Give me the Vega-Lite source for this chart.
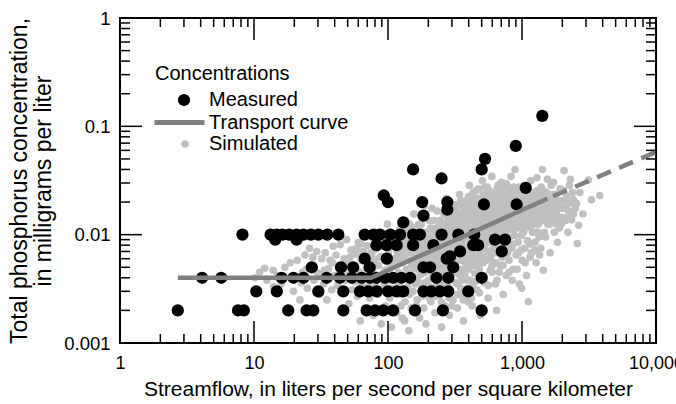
{
  "$schema": "https://vega.github.io/schema/vega-lite/v6.json",
  "width": 536,
  "height": 325,
  "autosize": {"type": "none"},
  "padding": {"left": 120, "top": 18, "right": 20, "bottom": 61},
  "background": "white",
  "config": {
    "view": {"stroke": "black", "strokeWidth": 2},
    "font": "Liberation Sans",
    "axis": {"labelFont": "Liberation Sans", "titleFont": "Liberation Sans", "labelColor": "black", "titleColor": "black", "domain": false, "grid": false, "ticks": false, "titleFontWeight": "normal", "labelOverlap": false, "labelFlush": false},
    "legend": {"labelFont": "Liberation Sans", "titleFont": "Liberation Sans", "labelColor": "black", "labelFontSize": 20, "titleColor": "black"}
  },
  "datasets": {
    "xticks": [
      {"v":1,"major":true},{"v":2,"major":false},{"v":3,"major":false},{"v":4,"major":false},{"v":5,"major":false},{"v":6,"major":false},{"v":7,"major":false},{"v":8,"major":false},{"v":9,"major":false},
      {"v":10,"major":true},{"v":20,"major":false},{"v":30,"major":false},{"v":40,"major":false},{"v":50,"major":false},{"v":60,"major":false},{"v":70,"major":false},{"v":80,"major":false},{"v":90,"major":false},
      {"v":100,"major":true},{"v":200,"major":false},{"v":300,"major":false},{"v":400,"major":false},{"v":500,"major":false},{"v":600,"major":false},{"v":700,"major":false},{"v":800,"major":false},{"v":900,"major":false},
      {"v":1000,"major":true},{"v":2000,"major":false},{"v":3000,"major":false},{"v":4000,"major":false},{"v":5000,"major":false},{"v":6000,"major":false},{"v":7000,"major":false},{"v":8000,"major":false},{"v":9000,"major":false},
      {"v":10000,"major":true}
    ],
    "yticks": [
      {"v":0.001,"major":true},{"v":0.002,"major":false},{"v":0.003,"major":false},{"v":0.004,"major":false},{"v":0.005,"major":false},{"v":0.006,"major":false},{"v":0.007,"major":false},{"v":0.008,"major":false},{"v":0.009,"major":false},
      {"v":0.01,"major":true},{"v":0.02,"major":false},{"v":0.03,"major":false},{"v":0.04,"major":false},{"v":0.05,"major":false},{"v":0.06,"major":false},{"v":0.07,"major":false},{"v":0.08,"major":false},{"v":0.09,"major":false},
      {"v":0.1,"major":true},{"v":0.2,"major":false},{"v":0.3,"major":false},{"v":0.4,"major":false},{"v":0.5,"major":false},{"v":0.6,"major":false},{"v":0.7,"major":false},{"v":0.8,"major":false},{"v":0.9,"major":false},
      {"v":1,"major":true}
    ]
  },
  "layer": [
    {
      "data": {"values": [
        {"flow":10.2,"tp":0.004},{"flow":11,"tp":0.0045},{"flow":12.5,"tp":0.0038},{"flow":13.9,"tp":0.0047},{"flow":15,"tp":0.0042},{"flow":16,"tp":0.0035},{"flow":17,"tp":0.005},{"flow":18.6,"tp":0.0055},{"flow":19.7,"tp":0.003},{"flow":14,"tp":0.0033},{"flow":20,"tp":0.0041},{"flow":12,"tp":0.0049},
        {"flow":21,"tp":0.0058},{"flow":22,"tp":0.0025},{"flow":23,"tp":0.0045},{"flow":24,"tp":0.0065},{"flow":25,"tp":0.0032},{"flow":26,"tp":0.0075},{"flow":27,"tp":0.0052},{"flow":28,"tp":0.0038},{"flow":29.4,"tp":0.007},{"flow":30,"tp":0.0044},{"flow":31,"tp":0.0028},{"flow":32,"tp":0.006},{"flow":33,"tp":0.0035},{"flow":34,"tp":0.0068},{"flow":35,"tp":0.0025},{"flow":36,"tp":0.0049},{"flow":37,"tp":0.0058},{"flow":38,"tp":0.0031},{"flow":39,"tp":0.0078},{"flow":40,"tp":0.0042},{"flow":22.5,"tp":0.0036},{"flow":27.5,"tp":0.0062},{"flow":33.5,"tp":0.0047},{"flow":38.5,"tp":0.0055},{"flow":24.5,"tp":0.0048},
        {"flow":41,"tp":0.0065},{"flow":42,"tp":0.0034},{"flow":43,"tp":0.0052},{"flow":44,"tp":0.0081},{"flow":45,"tp":0.0029},{"flow":46,"tp":0.0046},{"flow":47,"tp":0.006},{"flow":48,"tp":0.0038},{"flow":49,"tp":0.009},{"flow":50,"tp":0.0055},{"flow":51,"tp":0.0023},{"flow":52,"tp":0.0043},{"flow":53,"tp":0.0072},{"flow":54,"tp":0.0031},{"flow":55,"tp":0.0072},{"flow":56,"tp":0.005},{"flow":57,"tp":0.0037},{"flow":58,"tp":0.0066},{"flow":59,"tp":0.0027},{"flow":60,"tp":0.0085},{"flow":61,"tp":0.0045},{"flow":62,"tp":0.0016},{"flow":63,"tp":0.0058},{"flow":64,"tp":0.0034},{"flow":65,"tp":0.007},{"flow":66,"tp":0.0042},{"flow":67,"tp":0.0021},{"flow":68,"tp":0.0062},{"flow":69,"tp":0.0048},{"flow":70,"tp":0.0079},{"flow":71,"tp":0.0033},{"flow":72,"tp":0.0054},{"flow":73,"tp":0.0026},{"flow":74,"tp":0.0068},{"flow":75,"tp":0.0039},{"flow":76,"tp":0.0095},{"flow":77,"tp":0.0046},{"flow":78,"tp":0.0018},{"flow":79,"tp":0.0059},{"flow":80,"tp":0.0035},
        {"flow":52,"tp":0.0062},{"flow":58,"tp":0.0075},{"flow":63,"tp":0.0082},{"flow":70,"tp":0.0058},{"flow":76,"tp":0.0068},{"flow":83,"tp":0.0088},{"flow":87,"tp":0.0062},{"flow":91,"tp":0.0078},{"flow":98,"tp":0.0092},{"flow":102,"tp":0.0055},{"flow":105,"tp":0.0105},{"flow":112,"tp":0.0078},{"flow":115,"tp":0.0088},{"flow":121,"tp":0.0058},{"flow":124,"tp":0.0095},{"flow":130,"tp":0.0072},{"flow":136,"tp":0.0108},{"flow":142,"tp":0.0082},{"flow":145,"tp":0.0125},
        {"flow":82,"tp":0.0074},{"flow":84,"tp":0.0028},{"flow":85,"tp":0.0052},{"flow":86,"tp":0.0105},{"flow":88,"tp":0.0041},{"flow":89,"tp":0.0015},{"flow":90,"tp":0.0063},{"flow":92,"tp":0.0033},{"flow":93,"tp":0.0088},{"flow":95,"tp":0.0047},{"flow":96,"tp":0.0022},{"flow":97,"tp":0.0057},{"flow":99,"tp":0.0125},{"flow":100,"tp":0.0038},{"flow":101,"tp":0.0069},{"flow":103,"tp":0.0026},{"flow":104,"tp":0.0049},{"flow":106,"tp":0.0014},{"flow":107,"tp":0.0082},{"flow":108,"tp":0.0042},{"flow":110,"tp":0.006},{"flow":111,"tp":0.0031},{"flow":113,"tp":0.0097},{"flow":114,"tp":0.0053},{"flow":116,"tp":0.0019},{"flow":117,"tp":0.0072},{"flow":119,"tp":0.0036},{"flow":120,"tp":0.0045},{"flow":122,"tp":0.0112},{"flow":123,"tp":0.0066},{"flow":125,"tp":0.0028},{"flow":126,"tp":0.0056},{"flow":128,"tp":0.0017},{"flow":129,"tp":0.0085},{"flow":131,"tp":0.004},{"flow":132,"tp":0.0063},{"flow":134,"tp":0.0024},{"flow":135,"tp":0.0135},{"flow":137,"tp":0.0048},{"flow":138,"tp":0.0076},{"flow":140,"tp":0.0033},{"flow":141,"tp":0.0058},{"flow":143,"tp":0.0013},{"flow":144,"tp":0.0092},{"flow":146,"tp":0.0044},{"flow":147,"tp":0.0068},{"flow":149,"tp":0.0021},{"flow":150,"tp":0.0052},{"flow":94,"tp":0.0036},{"flow":109,"tp":0.0029},{"flow":118,"tp":0.0065},{"flow":127,"tp":0.0104},{"flow":133,"tp":0.0016},{"flow":139,"tp":0.0087},{"flow":148,"tp":0.0118},
        {"flow":105,"tp":0.0032},{"flow":125,"tp":0.0022},{"flow":145,"tp":0.0028},{"flow":165,"tp":0.0025},{"flow":185,"tp":0.0021},{"flow":205,"tp":0.0033},{"flow":225,"tp":0.0027},{"flow":250,"tp":0.0024},{"flow":270,"tp":0.0031},{"flow":300,"tp":0.0022},{"flow":330,"tp":0.0035},{"flow":360,"tp":0.0028},{"flow":390,"tp":0.0032},{"flow":420,"tp":0.0026},{"flow":450,"tp":0.0037},{"flow":480,"tp":0.0029},{"flow":520,"tp":0.0042},{"flow":560,"tp":0.0034},{"flow":600,"tp":0.0045},{"flow":650,"tp":0.0038},{"flow":720,"tp":0.0052},{"flow":800,"tp":0.0045},
        {"flow":160,"tp":0.0035},{"flow":200,"tp":0.0038},{"flow":240,"tp":0.0032},{"flow":280,"tp":0.0042},{"flow":320,"tp":0.0045},{"flow":360,"tp":0.0038},{"flow":400,"tp":0.0048},{"flow":440,"tp":0.0052},{"flow":480,"tp":0.0055},{"flow":540,"tp":0.0058},{"flow":580,"tp":0.0062},{"flow":640,"tp":0.0055},{"flow":700,"tp":0.0075},{"flow":780,"tp":0.0068},{"flow":860,"tp":0.0082},{"flow":940,"tp":0.0068},{"flow":1050,"tp":0.0075},{"flow":1150,"tp":0.0062},{"flow":1250,"tp":0.0072},
        {"flow":152,"tp":0.0071},{"flow":154,"tp":0.003},{"flow":156,"tp":0.0155},{"flow":158,"tp":0.0049},{"flow":160,"tp":0.0095},{"flow":162,"tp":0.0022},{"flow":164,"tp":0.006},{"flow":166,"tp":0.0038},{"flow":168,"tp":0.0124},{"flow":170,"tp":0.0055},{"flow":172,"tp":0.0017},{"flow":174,"tp":0.0082},{"flow":176,"tp":0.0043},{"flow":178,"tp":0.0066},{"flow":180,"tp":0.0027},{"flow":182,"tp":0.0105},{"flow":184,"tp":0.0051},{"flow":186,"tp":0.0185},{"flow":188,"tp":0.0036},{"flow":190,"tp":0.0074},{"flow":192,"tp":0.0015},{"flow":194,"tp":0.0058},{"flow":196,"tp":0.0092},{"flow":198,"tp":0.0031},{"flow":200,"tp":0.0047},{"flow":203,"tp":0.0135},{"flow":206,"tp":0.0068},{"flow":209,"tp":0.0024},{"flow":212,"tp":0.0085},{"flow":215,"tp":0.0041},{"flow":218,"tp":0.0112},{"flow":221,"tp":0.0056},{"flow":224,"tp":0.0019},{"flow":227,"tp":0.0078},{"flow":230,"tp":0.0034},{"flow":233,"tp":0.0165},{"flow":236,"tp":0.0062},{"flow":239,"tp":0.0045},{"flow":242,"tp":0.0098},{"flow":245,"tp":0.0028},{"flow":248,"tp":0.0072},{"flow":251,"tp":0.0014},{"flow":254,"tp":0.0052},{"flow":257,"tp":0.0125},{"flow":260,"tp":0.0038},{"flow":263,"tp":0.0088},{"flow":266,"tp":0.0022},{"flow":269,"tp":0.0065},{"flow":272,"tp":0.0215},{"flow":275,"tp":0.0048},{"flow":278,"tp":0.0105},{"flow":281,"tp":0.0033},{"flow":284,"tp":0.0076},{"flow":287,"tp":0.0018},{"flow":290,"tp":0.0145},{"flow":293,"tp":0.0057},{"flow":296,"tp":0.0042},{"flow":299,"tp":0.0093},{"flow":155,"tp":0.0041},{"flow":163,"tp":0.0078},{"flow":171,"tp":0.0108},{"flow":179,"tp":0.0033},{"flow":187,"tp":0.0062},{"flow":195,"tp":0.0048},{"flow":204,"tp":0.0026},{"flow":213,"tp":0.0175},{"flow":222,"tp":0.0071},{"flow":231,"tp":0.0115},{"flow":240,"tp":0.0055},{"flow":249,"tp":0.0082},{"flow":258,"tp":0.0035},{"flow":267,"tp":0.0155},{"flow":276,"tp":0.0068},{"flow":285,"tp":0.0026},{"flow":294,"tp":0.012},{"flow":201,"tp":0.0105},{"flow":228,"tp":0.0052},{"flow":264,"tp":0.0045},{"flow":288,"tp":0.0062},{"flow":197,"tp":0.0066},
        {"flow":152,"tp":0.0095},{"flow":157,"tp":0.0062},{"flow":161,"tp":0.0115},{"flow":165,"tp":0.0048},{"flow":169,"tp":0.0085},{"flow":173,"tp":0.0068},{"flow":177,"tp":0.0125},{"flow":181,"tp":0.0058},{"flow":185,"tp":0.009},{"flow":189,"tp":0.0045},{"flow":193,"tp":0.0105},{"flow":199,"tp":0.0078},{"flow":205,"tp":0.0058},{"flow":210,"tp":0.0098},{"flow":216,"tp":0.0065},{"flow":220,"tp":0.0135},{"flow":225,"tp":0.0088},{"flow":232,"tp":0.0048},{"flow":237,"tp":0.0105},{"flow":243,"tp":0.0072},{"flow":247,"tp":0.0125},{"flow":253,"tp":0.0062},{"flow":259,"tp":0.0098},{"flow":262,"tp":0.0155},{"flow":268,"tp":0.0082},{"flow":273,"tp":0.0055},{"flow":279,"tp":0.0128},{"flow":283,"tp":0.0092},{"flow":289,"tp":0.0048},{"flow":292,"tp":0.0175},{"flow":297,"tp":0.0075},{"flow":301,"tp":0.0108},{"flow":307,"tp":0.0142},{"flow":313,"tp":0.0068},{"flow":317,"tp":0.0098},{"flow":322,"tp":0.0165},{"flow":326,"tp":0.0082},{"flow":331,"tp":0.0125},{"flow":337,"tp":0.0058},{"flow":341,"tp":0.0145},{"flow":345,"tp":0.0095},{"flow":351,"tp":0.0068},{"flow":356,"tp":0.0185},{"flow":361,"tp":0.0048},{"flow":365,"tp":0.0132},{"flow":371,"tp":0.0105},{"flow":375,"tp":0.0078},{"flow":380,"tp":0.0155},{"flow":387,"tp":0.0115},{"flow":391,"tp":0.0062},{"flow":398,"tp":0.0135},
        {"flow":155,"tp":0.0085},{"flow":162,"tp":0.0055},{"flow":167,"tp":0.0072},{"flow":175,"tp":0.0095},{"flow":183,"tp":0.0078},{"flow":191,"tp":0.0062},{"flow":202,"tp":0.0088},{"flow":208,"tp":0.0115},{"flow":214,"tp":0.0052},{"flow":219,"tp":0.0075},{"flow":226,"tp":0.0105},{"flow":234,"tp":0.0068},{"flow":238,"tp":0.0085},{"flow":244,"tp":0.0135},{"flow":252,"tp":0.0105},{"flow":256,"tp":0.0072},{"flow":261,"tp":0.0058},{"flow":265,"tp":0.0118},{"flow":271,"tp":0.0092},{"flow":277,"tp":0.0145},{"flow":282,"tp":0.0065},{"flow":286,"tp":0.0108},{"flow":291,"tp":0.0085},{"flow":295,"tp":0.0135},{"flow":302,"tp":0.0052},{"flow":308,"tp":0.0075},{"flow":314,"tp":0.0115},{"flow":320,"tp":0.0065},{"flow":325,"tp":0.0185},{"flow":333,"tp":0.0088},{"flow":339,"tp":0.0115},{"flow":343,"tp":0.0065},{"flow":349,"tp":0.0135},{"flow":355,"tp":0.0078},{"flow":359,"tp":0.0105},{"flow":363,"tp":0.0155},{"flow":369,"tp":0.0062},{"flow":373,"tp":0.0118},{"flow":379,"tp":0.0088},{"flow":385,"tp":0.0175},{"flow":389,"tp":0.0072},{"flow":394,"tp":0.0105},{"flow":399,"tp":0.0225},
        {"flow":303,"tp":0.0066},{"flow":306,"tp":0.0025},{"flow":309,"tp":0.0118},{"flow":312,"tp":0.0048},{"flow":315,"tp":0.019},{"flow":318,"tp":0.0085},{"flow":321,"tp":0.0036},{"flow":324,"tp":0.0135},{"flow":327,"tp":0.006},{"flow":330,"tp":0.0021},{"flow":334,"tp":0.0102},{"flow":338,"tp":0.0045},{"flow":342,"tp":0.0235},{"flow":346,"tp":0.0075},{"flow":350,"tp":0.0032},{"flow":354,"tp":0.0155},{"flow":358,"tp":0.0058},{"flow":362,"tp":0.0115},{"flow":366,"tp":0.0016},{"flow":370,"tp":0.0088},{"flow":374,"tp":0.0042},{"flow":378,"tp":0.0205},{"flow":382,"tp":0.0068},{"flow":386,"tp":0.0027},{"flow":390,"tp":0.0128},{"flow":395,"tp":0.0052},{"flow":400,"tp":0.0095},{"flow":405,"tp":0.0285},{"flow":410,"tp":0.0038},{"flow":415,"tp":0.0145},{"flow":420,"tp":0.0072},{"flow":425,"tp":0.0022},{"flow":430,"tp":0.0112},{"flow":435,"tp":0.0058},{"flow":440,"tp":0.0175},{"flow":445,"tp":0.0044},{"flow":450,"tp":0.0082},{"flow":455,"tp":0.0255},{"flow":460,"tp":0.0031},{"flow":465,"tp":0.0125},{"flow":470,"tp":0.0065},{"flow":475,"tp":0.0195},{"flow":480,"tp":0.0048},{"flow":485,"tp":0.0098},{"flow":490,"tp":0.0018},{"flow":495,"tp":0.0138},{"flow":500,"tp":0.0074},{"flow":506,"tp":0.0315},{"flow":512,"tp":0.0055},{"flow":518,"tp":0.0108},{"flow":524,"tp":0.0036},{"flow":530,"tp":0.0165},{"flow":536,"tp":0.0088},{"flow":542,"tp":0.0225},{"flow":548,"tp":0.0062},{"flow":554,"tp":0.0125},{"flow":560,"tp":0.0026},{"flow":566,"tp":0.0092},{"flow":572,"tp":0.0185},{"flow":578,"tp":0.0047},{"flow":584,"tp":0.0138},{"flow":590,"tp":0.0072},{"flow":596,"tp":0.0345},{"flow":304,"tp":0.0088},{"flow":311,"tp":0.0155},{"flow":319,"tp":0.0052},{"flow":328,"tp":0.0105},{"flow":336,"tp":0.0072},{"flow":344,"tp":0.0042},{"flow":352,"tp":0.0125},{"flow":360,"tp":0.0085},{"flow":368,"tp":0.0175},{"flow":376,"tp":0.0055},{"flow":384,"tp":0.0095},{"flow":392,"tp":0.0038},{"flow":402,"tp":0.0165},{"flow":412,"tp":0.0062},{"flow":422,"tp":0.0118},{"flow":432,"tp":0.0245},{"flow":442,"tp":0.0078},{"flow":452,"tp":0.0135},{"flow":462,"tp":0.0052},{"flow":472,"tp":0.0092},{"flow":482,"tp":0.0215},{"flow":492,"tp":0.0118},{"flow":502,"tp":0.0042},{"flow":514,"tp":0.0155},{"flow":526,"tp":0.0082},{"flow":538,"tp":0.0125},{"flow":550,"tp":0.0275},{"flow":562,"tp":0.0068},{"flow":574,"tp":0.0105},{"flow":586,"tp":0.0235},{"flow":598,"tp":0.0052},{"flow":332,"tp":0.0028},{"flow":364,"tp":0.0025},{"flow":396,"tp":0.0024},{"flow":428,"tp":0.0033},{"flow":458,"tp":0.0085},{"flow":488,"tp":0.0065},{"flow":520,"tp":0.0198},{"flow":552,"tp":0.0095},{"flow":580,"tp":0.0145},{"flow":348,"tp":0.0205},{"flow":418,"tp":0.0185},{"flow":468,"tp":0.0165},
        {"flow":403,"tp":0.0078},{"flow":408,"tp":0.0205},{"flow":413,"tp":0.0105},{"flow":417,"tp":0.0058},{"flow":423,"tp":0.0155},{"flow":427,"tp":0.0088},{"flow":433,"tp":0.0135},{"flow":437,"tp":0.0068},{"flow":443,"tp":0.0115},{"flow":448,"tp":0.0215},{"flow":453,"tp":0.0098},{"flow":457,"tp":0.0148},{"flow":463,"tp":0.0075},{"flow":467,"tp":0.0118},{"flow":473,"tp":0.0265},{"flow":477,"tp":0.0085},{"flow":483,"tp":0.0158},{"flow":487,"tp":0.0125},{"flow":493,"tp":0.0062},{"flow":497,"tp":0.0185},{"flow":503,"tp":0.0098},{"flow":509,"tp":0.0135},{"flow":515,"tp":0.0235},{"flow":521,"tp":0.0075},{"flow":527,"tp":0.0115},{"flow":533,"tp":0.0195},{"flow":539,"tp":0.0095},{"flow":545,"tp":0.0148},{"flow":551,"tp":0.0065},{"flow":557,"tp":0.0175},{"flow":563,"tp":0.0118},{"flow":569,"tp":0.0255},{"flow":575,"tp":0.0085},{"flow":581,"tp":0.0135},{"flow":587,"tp":0.0165},{"flow":593,"tp":0.0105},
        {"flow":406,"tp":0.0118},{"flow":411,"tp":0.0088},{"flow":416,"tp":0.0165},{"flow":421,"tp":0.0095},{"flow":426,"tp":0.0138},{"flow":431,"tp":0.0078},{"flow":436,"tp":0.0195},{"flow":441,"tp":0.0105},{"flow":446,"tp":0.0128},{"flow":451,"tp":0.0068},{"flow":456,"tp":0.0115},{"flow":461,"tp":0.0175},{"flow":466,"tp":0.0095},{"flow":471,"tp":0.0145},{"flow":476,"tp":0.0118},{"flow":481,"tp":0.0078},{"flow":486,"tp":0.0195},{"flow":491,"tp":0.0138},{"flow":496,"tp":0.0105},{"flow":505,"tp":0.0165},{"flow":511,"tp":0.0085},{"flow":517,"tp":0.0145},{"flow":523,"tp":0.0118},{"flow":529,"tp":0.0275},{"flow":535,"tp":0.0105},{"flow":541,"tp":0.0165},{"flow":547,"tp":0.0125},{"flow":553,"tp":0.0085},{"flow":559,"tp":0.0215},{"flow":565,"tp":0.0145},{"flow":571,"tp":0.0105},{"flow":577,"tp":0.0175},{"flow":583,"tp":0.0095},{"flow":589,"tp":0.0125},{"flow":595,"tp":0.0195},
        {"flow":605,"tp":0.0115},{"flow":612,"tp":0.0055},{"flow":619,"tp":0.0205},{"flow":626,"tp":0.0088},{"flow":633,"tp":0.0035},{"flow":640,"tp":0.0145},{"flow":646,"tp":0.002},{"flow":652,"tp":0.0265},{"flow":660,"tp":0.0072},{"flow":668,"tp":0.0125},{"flow":676,"tp":0.0045},{"flow":684,"tp":0.0185},{"flow":692,"tp":0.0098},{"flow":700,"tp":0.0305},{"flow":708,"tp":0.0062},{"flow":716,"tp":0.0155},{"flow":724,"tp":0.0028},{"flow":732,"tp":0.0112},{"flow":740,"tp":0.0225},{"flow":748,"tp":0.0078},{"flow":756,"tp":0.0135},{"flow":764,"tp":0.0042},{"flow":772,"tp":0.0195},{"flow":780,"tp":0.0092},{"flow":790,"tp":0.0255},{"flow":800,"tp":0.0058},{"flow":810,"tp":0.0165},{"flow":820,"tp":0.0118},{"flow":830,"tp":0.0345},{"flow":840,"tp":0.0075},{"flow":850,"tp":0.0205},{"flow":860,"tp":0.0048},{"flow":870,"tp":0.0138},{"flow":880,"tp":0.0098},{"flow":887,"tp":0.04},{"flow":895,"tp":0.0175},{"flow":905,"tp":0.0065},{"flow":915,"tp":0.0245},{"flow":925,"tp":0.0115},{"flow":935,"tp":0.0085},{"flow":945,"tp":0.0155},{"flow":955,"tp":0.0035},{"flow":965,"tp":0.0215},{"flow":975,"tp":0.0125},{"flow":985,"tp":0.0072},{"flow":995,"tp":0.0032},{"flow":1010,"tp":0.0185},{"flow":1025,"tp":0.0105},{"flow":1040,"tp":0.0285},{"flow":1055,"tp":0.0055},{"flow":1070,"tp":0.0145},{"flow":1085,"tp":0.0225},{"flow":1100,"tp":0.0088},{"flow":1115,"tp":0.0024},{"flow":1130,"tp":0.0165},{"flow":1145,"tp":0.0118},{"flow":1160,"tp":0.0315},{"flow":1175,"tp":0.0068},{"flow":1190,"tp":0.0195},{"flow":622,"tp":0.0165},{"flow":658,"tp":0.0235},{"flow":694,"tp":0.0125},{"flow":728,"tp":0.0175},{"flow":766,"tp":0.0295},{"flow":802,"tp":0.0145},{"flow":838,"tp":0.0112},{"flow":874,"tp":0.0255},{"flow":910,"tp":0.0148},{"flow":950,"tp":0.0275},{"flow":990,"tp":0.0098},{"flow":1030,"tp":0.0135},{"flow":1065,"tp":0.0205},{"flow":1110,"tp":0.0265},{"flow":1150,"tp":0.0082},{"flow":1185,"tp":0.0145},{"flow":615,"tp":0.0075},{"flow":688,"tp":0.0052},{"flow":760,"tp":0.0065},{"flow":845,"tp":0.0038},{"flow":920,"tp":0.0048},{"flow":1000,"tp":0.0058},{"flow":1080,"tp":0.0042},
        {"flow":602,"tp":0.0225},{"flow":609,"tp":0.0135},{"flow":616,"tp":0.0095},{"flow":624,"tp":0.0185},{"flow":631,"tp":0.0125},{"flow":638,"tp":0.0068},{"flow":644,"tp":0.0205},{"flow":650,"tp":0.0155},{"flow":656,"tp":0.0108},{"flow":663,"tp":0.0285},{"flow":671,"tp":0.0145},{"flow":679,"tp":0.0088},{"flow":686,"tp":0.0215},{"flow":697,"tp":0.0165},{"flow":704,"tp":0.0118},{"flow":712,"tp":0.0245},{"flow":720,"tp":0.0095},{"flow":735,"tp":0.0145},{"flow":744,"tp":0.0185},{"flow":752,"tp":0.0105},{"flow":768,"tp":0.0155},{"flow":776,"tp":0.0265},{"flow":785,"tp":0.0125},{"flow":795,"tp":0.0175},{"flow":806,"tp":0.0095},{"flow":815,"tp":0.0225},{"flow":825,"tp":0.0145},{"flow":835,"tp":0.0185},{"flow":855,"tp":0.0125},{"flow":865,"tp":0.0275},{"flow":885,"tp":0.0165},{"flow":900,"tp":0.0215},{"flow":930,"tp":0.0185},{"flow":940,"tp":0.0125},{"flow":960,"tp":0.0165},{"flow":980,"tp":0.0235},{"flow":1005,"tp":0.0155},{"flow":1020,"tp":0.0245},{"flow":1045,"tp":0.0175},{"flow":1060,"tp":0.0115},{"flow":1095,"tp":0.0185},{"flow":1120,"tp":0.0135},{"flow":1140,"tp":0.0225},{"flow":1170,"tp":0.0165},{"flow":1200,"tp":0.0105},
        {"flow":610,"tp":0.0165},{"flow":620,"tp":0.0118},{"flow":630,"tp":0.0245},{"flow":642,"tp":0.0105},{"flow":654,"tp":0.0185},{"flow":666,"tp":0.0135},{"flow":678,"tp":0.0225},{"flow":690,"tp":0.0145},{"flow":702,"tp":0.0098},{"flow":714,"tp":0.0205},{"flow":726,"tp":0.0135},{"flow":738,"tp":0.0275},{"flow":750,"tp":0.0155},{"flow":762,"tp":0.0115},{"flow":774,"tp":0.0215},{"flow":786,"tp":0.0165},{"flow":798,"tp":0.0125},{"flow":812,"tp":0.0245},{"flow":826,"tp":0.0175},{"flow":842,"tp":0.0135},{"flow":858,"tp":0.0215},{"flow":872,"tp":0.0185},{"flow":890,"tp":0.0115},{"flow":908,"tp":0.0195},{"flow":926,"tp":0.0165},{"flow":944,"tp":0.0235},{"flow":962,"tp":0.0135},{"flow":982,"tp":0.0195},{"flow":1002,"tp":0.0115},{"flow":1022,"tp":0.0175},{"flow":1042,"tp":0.0215},{"flow":1062,"tp":0.0165},{"flow":1082,"tp":0.0125},{"flow":1102,"tp":0.0195},{"flow":1125,"tp":0.0155},{"flow":1155,"tp":0.0245},{"flow":1180,"tp":0.0125},
        {"flow":1210,"tp":0.0125},{"flow":1230,"tp":0.0245},{"flow":1250,"tp":0.0085},{"flow":1270,"tp":0.0175},{"flow":1290,"tp":0.0335},{"flow":1310,"tp":0.0105},{"flow":1330,"tp":0.0215},{"flow":1350,"tp":0.0065},{"flow":1370,"tp":0.0155},{"flow":1395,"tp":0.0275},{"flow":1420,"tp":0.04},{"flow":1443,"tp":0.0047},{"flow":1460,"tp":0.0135},{"flow":1480,"tp":0.0195},{"flow":1500,"tp":0.0095},{"flow":1530,"tp":0.0245},{"flow":1560,"tp":0.0125},{"flow":1590,"tp":0.0175},{"flow":1620,"tp":0.0068},{"flow":1650,"tp":0.0285},{"flow":1680,"tp":0.0145},{"flow":1710,"tp":0.0205},{"flow":1740,"tp":0.0105},{"flow":1770,"tp":0.0235},{"flow":1800,"tp":0.0155},{"flow":1840,"tp":0.0085},{"flow":1880,"tp":0.0195},{"flow":1920,"tp":0.0265},{"flow":1960,"tp":0.0125},{"flow":2000,"tp":0.0145},{"flow":2060,"tp":0.039},{"flow":2100,"tp":0.0175},{"flow":2150,"tp":0.0225},{"flow":2200,"tp":0.0105},{"flow":2260,"tp":0.0285},{"flow":2345,"tp":0.0137},{"flow":2415,"tp":0.021},{"flow":2500,"tp":0.0175},{"flow":2590,"tp":0.0083},{"flow":2700,"tp":0.0245},{"flow":2850,"tp":0.0155},{"flow":3125,"tp":0.032},{"flow":3300,"tp":0.021},{"flow":3800,"tp":0.023},{"flow":1275,"tp":0.0055},{"flow":1380,"tp":0.0075},{"flow":1550,"tp":0.0325},{"flow":1720,"tp":0.0305},{"flow":1900,"tp":0.0115},{"flow":2300,"tp":0.0325},{"flow":2650,"tp":0.0122},
        {"flow":1240,"tp":0.0185},{"flow":1260,"tp":0.0135},{"flow":1300,"tp":0.0255},{"flow":1320,"tp":0.0155},{"flow":1340,"tp":0.0095},{"flow":1360,"tp":0.0225},{"flow":1410,"tp":0.0175},{"flow":1440,"tp":0.0255},{"flow":1470,"tp":0.0105},{"flow":1510,"tp":0.0185},{"flow":1540,"tp":0.0145},{"flow":1580,"tp":0.0225},{"flow":1610,"tp":0.0125},{"flow":1660,"tp":0.0195},{"flow":1700,"tp":0.0165},{"flow":1750,"tp":0.0135},{"flow":1790,"tp":0.0215},{"flow":1850,"tp":0.0175},{"flow":1940,"tp":0.0205},{"flow":2030,"tp":0.0255},{"flow":2120,"tp":0.0135},{"flow":2230,"tp":0.0165},{"flow":2380,"tp":0.0245},{"flow":2550,"tp":0.0195},
        {"flow":1205,"tp":0.0175},{"flow":1235,"tp":0.0215},{"flow":1265,"tp":0.0105},{"flow":1295,"tp":0.0165},{"flow":1325,"tp":0.0125},{"flow":1355,"tp":0.0185},{"flow":1385,"tp":0.0135},{"flow":1415,"tp":0.0225},{"flow":1450,"tp":0.0165},{"flow":1490,"tp":0.0135},{"flow":1520,"tp":0.0205},{"flow":1570,"tp":0.0155},{"flow":1630,"tp":0.0185},{"flow":1690,"tp":0.0235},{"flow":1760,"tp":0.0175},{"flow":1820,"tp":0.0125},{"flow":1890,"tp":0.0145},{"flow":1980,"tp":0.0175},{"flow":2080,"tp":0.0205},{"flow":2180,"tp":0.0145},{"flow":2280,"tp":0.0195},{"flow":2420,"tp":0.0155}
      ]},
      "mark": {"type": "circle", "size": 58, "opacity": 1},
      "encoding": {
        "x": {"field": "flow", "type": "quantitative",
          "scale": {"type": "log", "domain": [1, 10000], "nice": false},
          "axis": {"orient": "bottom",
            "values": [1, 10, 100, 1000, 10000],
            "format": ",",
            "labelFontSize": 18, "labelPadding": 11,
            "title": "Streamflow, in liters per second per square kilometer",
            "titleFontSize": 21, "titlePadding": 6}},
        "y": {"field": "tp", "type": "quantitative",
          "scale": {"type": "log", "domain": [0.001, 1], "nice": false},
          "axis": {"orient": "left",
            "values": [0.001, 0.01, 0.1, 1],
            "format": "~g",
            "labelFontSize": 18.5, "labelPadding": 10,
            "title": ["Total phosphorus concentration,", "in milligrams per liter"],
            "titleFontSize": 23, "titleLineHeight": 24, "titlePadding": 8}},
        "color": {"datum": "Simulated", "type": "nominal",
          "scale": {"domain": ["Simulated"], "range": ["#c0c0c0"]},
          "legend": {"orient": "none", "legendX": 35, "legendY": 116, "title": null,
            "symbolType": "circle", "symbolSize": 58, "symbolOffset": 20, "symbolStrokeWidth": 0, "labelOffset": 14}}
      }
    },
    {
      "data": {"values": [
        {"flow":2.7,"tp":0.002},{"flow":4.1,"tp":0.004},{"flow":5.7,"tp":0.004},{"flow":7.6,"tp":0.002},{"flow":8.4,"tp":0.002},{"flow":8.2,"tp":0.01},{"flow":10.4,"tp":0.003},
        {"flow":13.3,"tp":0.01},{"flow":14.8,"tp":0.01},{"flow":16.3,"tp":0.01},{"flow":18.3,"tp":0.01},{"flow":20.8,"tp":0.01},{"flow":23.4,"tp":0.01},{"flow":26.6,"tp":0.01},{"flow":30.2,"tp":0.01},{"flow":35.2,"tp":0.01},{"flow":42.6,"tp":0.01},{"flow":67,"tp":0.01},{"flow":78,"tp":0.01},{"flow":87,"tp":0.01},{"flow":104,"tp":0.01},{"flow":123,"tp":0.01},{"flow":154,"tp":0.01},{"flow":173,"tp":0.01},{"flow":251,"tp":0.01},{"flow":335,"tp":0.01},{"flow":440,"tp":0.01},
        {"flow":14.4,"tp":0.009},{"flow":20.8,"tp":0.009},{"flow":629,"tp":0.009},{"flow":747,"tp":0.009},
        {"flow":93,"tp":0.023},{"flow":100,"tp":0.02},{"flow":130,"tp":0.013},{"flow":154,"tp":0.04},{"flow":180,"tp":0.02},{"flow":184,"tp":0.015},{"flow":251,"tp":0.033},{"flow":277,"tp":0.02},{"flow":277,"tp":0.017},{"flow":500,"tp":0.04},{"flow":530,"tp":0.05},{"flow":520,"tp":0.019},
        {"flow":898,"tp":0.066},{"flow":1066,"tp":0.027},{"flow":912,"tp":0.019},{"flow":1418,"tp":0.125},
        {"flow":82,"tp":0.008},{"flow":98,"tp":0.008},{"flow":116,"tp":0.008},{"flow":154,"tp":0.008},{"flow":218,"tp":0.008},{"flow":433,"tp":0.008},{"flow":470,"tp":0.008},
        {"flow":345,"tp":0.007},{"flow":706,"tp":0.007},
        {"flow":67,"tp":0.006},{"flow":98,"tp":0.006},{"flow":274,"tp":0.006},{"flow":290,"tp":0.0063},
        {"flow":27,"tp":0.005},{"flow":44.6,"tp":0.005},{"flow":55,"tp":0.005},{"flow":73,"tp":0.005},{"flow":184,"tp":0.005},{"flow":206,"tp":0.005},{"flow":307,"tp":0.005},
        {"flow":16.1,"tp":0.004},{"flow":19.7,"tp":0.004},{"flow":23.4,"tp":0.004},{"flow":34.9,"tp":0.004},{"flow":43.8,"tp":0.004},{"flow":53.6,"tp":0.004},{"flow":63.6,"tp":0.004},{"flow":73.4,"tp":0.004},{"flow":82,"tp":0.004},{"flow":95,"tp":0.004},{"flow":109,"tp":0.004},{"flow":126,"tp":0.004},{"flow":146,"tp":0.004},{"flow":230,"tp":0.004},{"flow":282,"tp":0.004},{"flow":500,"tp":0.004},
        {"flow":14.8,"tp":0.003},{"flow":30.2,"tp":0.003},{"flow":46.4,"tp":0.003},{"flow":61.8,"tp":0.003},{"flow":71.3,"tp":0.003},{"flow":82.4,"tp":0.003},{"flow":100,"tp":0.003},{"flow":116,"tp":0.003},{"flow":130,"tp":0.003},{"flow":184,"tp":0.003},{"flow":210,"tp":0.003},{"flow":244,"tp":0.003},{"flow":282,"tp":0.003},{"flow":397,"tp":0.003},
        {"flow":18,"tp":0.002},{"flow":24.7,"tp":0.002},{"flow":27.7,"tp":0.002},{"flow":46.4,"tp":0.002},{"flow":69.3,"tp":0.002},{"flow":80,"tp":0.002},{"flow":92,"tp":0.002},{"flow":109,"tp":0.002},{"flow":159,"tp":0.002},{"flow":257,"tp":0.002},{"flow":500,"tp":0.002}
      ]},
      "mark": {"type": "circle", "size": 150, "opacity": 1},
      "encoding": {
        "x": {"field": "flow", "type": "quantitative"},
        "y": {"field": "tp", "type": "quantitative"},
        "fill": {"datum": "Measured", "type": "nominal",
          "scale": {"domain": ["Measured"], "range": ["#000000"]},
          "legend": {"orient": "none", "legendX": 35, "legendY": 46, "title": "Concentrations",
            "titleFontSize": 20, "titleFontWeight": "normal", "titlePadding": 6,
            "symbolType": "circle", "symbolSize": 150, "symbolOffset": 19, "symbolStrokeWidth": 0, "labelOffset": 15}}
      }
    },
    {
      "data": {"values": [
        {"flow": 2.7, "tp": 0.004}, {"flow": 75, "tp": 0.004}, {"flow": 1550, "tp": 0.0215}
      ]},
      "mark": {"type": "line", "strokeWidth": 4.5, "strokeCap": "butt"},
      "encoding": {
        "x": {"field": "flow", "type": "quantitative"},
        "y": {"field": "tp", "type": "quantitative"},
        "stroke": {"datum": "Transport curve", "type": "nominal",
          "scale": {"domain": ["Transport curve"], "range": ["#808080"]},
          "legend": {"orient": "none", "legendX": 32, "legendY": 77, "title": null,
            "symbolType": "stroke", "symbolSize": 2500, "symbolStrokeWidth": 5, "labelOffset": 2}}
      }
    },
    {
      "data": {"values": [
        {"flow": 1550, "tp": 0.0215}, {"flow": 10000, "tp": 0.058}
      ]},
      "mark": {"type": "line", "strokeWidth": 4.5, "strokeCap": "butt", "strokeDash": [15, 9], "strokeDashOffset": -6, "stroke": "#808080"},
      "encoding": {
        "x": {"field": "flow", "type": "quantitative"},
        "y": {"field": "tp", "type": "quantitative"}
      }
    },
    {
      "data": {"name": "xticks"},
      "transform": [{"filter": "datum.major"}],
      "mark": {"type": "tick", "orient": "vertical", "thickness": 1.5, "color": "#000000", "opacity": 1, "yOffset": -11},
      "encoding": {
        "x": {"field": "v", "type": "quantitative"},
        "y": {"datum": 0.001, "type": "quantitative"},
        "size": {"value": 22}
      }
    },
    {
      "data": {"name": "xticks"},
      "transform": [{"filter": "!datum.major"}],
      "mark": {"type": "tick", "orient": "vertical", "thickness": 1.5, "color": "#000000", "opacity": 1, "yOffset": -4.5},
      "encoding": {
        "x": {"field": "v", "type": "quantitative"},
        "y": {"datum": 0.001, "type": "quantitative"},
        "size": {"value": 9}
      }
    },
    {
      "data": {"name": "xticks"},
      "transform": [{"filter": "datum.major"}],
      "mark": {"type": "tick", "orient": "vertical", "thickness": 1.5, "color": "#000000", "opacity": 1, "yOffset": 11},
      "encoding": {
        "x": {"field": "v", "type": "quantitative"},
        "y": {"datum": 1, "type": "quantitative"},
        "size": {"value": 22}
      }
    },
    {
      "data": {"name": "xticks"},
      "transform": [{"filter": "!datum.major"}],
      "mark": {"type": "tick", "orient": "vertical", "thickness": 1.5, "color": "#000000", "opacity": 1, "yOffset": 4.5},
      "encoding": {
        "x": {"field": "v", "type": "quantitative"},
        "y": {"datum": 1, "type": "quantitative"},
        "size": {"value": 9}
      }
    },
    {
      "data": {"name": "yticks"},
      "transform": [{"filter": "datum.major"}],
      "mark": {"type": "tick", "orient": "horizontal", "thickness": 1.5, "color": "#000000", "opacity": 1, "xOffset": 11},
      "encoding": {
        "y": {"field": "v", "type": "quantitative"},
        "x": {"datum": 1, "type": "quantitative"},
        "size": {"value": 22}
      }
    },
    {
      "data": {"name": "yticks"},
      "transform": [{"filter": "!datum.major"}],
      "mark": {"type": "tick", "orient": "horizontal", "thickness": 1.5, "color": "#000000", "opacity": 1, "xOffset": 5},
      "encoding": {
        "y": {"field": "v", "type": "quantitative"},
        "x": {"datum": 1, "type": "quantitative"},
        "size": {"value": 10}
      }
    },
    {
      "data": {"name": "yticks"},
      "transform": [{"filter": "datum.major"}],
      "mark": {"type": "tick", "orient": "horizontal", "thickness": 1.5, "color": "#000000", "opacity": 1, "xOffset": -11},
      "encoding": {
        "y": {"field": "v", "type": "quantitative"},
        "x": {"datum": 10000, "type": "quantitative"},
        "size": {"value": 22}
      }
    },
    {
      "data": {"name": "yticks"},
      "transform": [{"filter": "!datum.major"}],
      "mark": {"type": "tick", "orient": "horizontal", "thickness": 1.5, "color": "#000000", "opacity": 1, "xOffset": -5},
      "encoding": {
        "y": {"field": "v", "type": "quantitative"},
        "x": {"datum": 10000, "type": "quantitative"},
        "size": {"value": 10}
      }
    }
  ]
}
